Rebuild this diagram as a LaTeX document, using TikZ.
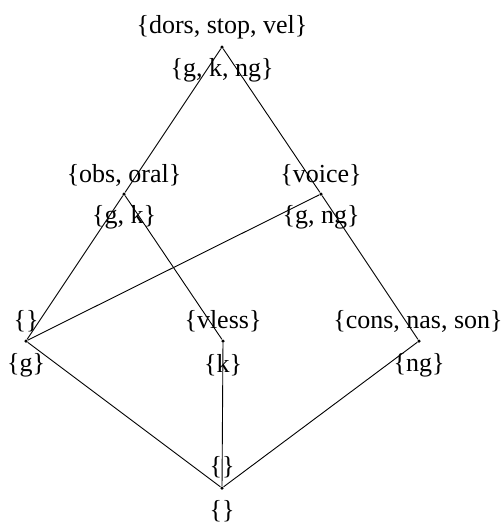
\documentclass[tikz,border=0pt]{standalone}
\usepackage{fontspec}
\setmainfont{Liberation Serif}
\begin{document}
\begin{tikzpicture}[x=1pt,y=-1pt,
  dot/.style={circle,fill=black,inner sep=0pt,minimum size=3.5pt},
  lab/.style={inner sep=0pt,font=\fontsize{26}{31}\selectfont},
  edge/.style={line width=0.9pt}]
\useasboundingbox (0,0) rectangle (503,523);
\node[dot] (top) at (222,47) {};
\node[dot] (obs) at (124,194) {};
\node[dot] (voi) at (321,194) {};
\node[dot] (lft) at (26,341) {};
\node[dot] (vls) at (223,341) {};
\node[dot] (cns) at (419,341) {};
\node[dot] (bot) at (222,488) {};
\draw[edge] (top) -- (obs);
\draw[edge] (top) -- (voi);
\draw[edge] (obs) -- (lft);
\draw[edge] (obs) -- (vls);
\draw[edge] (voi) -- (lft);
\draw[edge] (voi) -- (cns);
\draw[edge] (lft) -- (bot);
\draw[edge] (vls) -- (bot);
\draw[edge] (cns) -- (bot);
\node[lab] (topA) at (222,27) {\{dors, stop, vel\}};
\node[lab] (topB) at (222,70) {\{g, k, ng\}};
\node[lab] (obsA) at (124,175) {\{obs, oral\}};
\node[lab] (obsB) at (124,217) {\{g, k\}};
\node[lab] (voiA) at (321,175) {\{voice\}};
\node[lab] (voiB) at (321,217) {\{g, ng\}};
\node[lab] (lftA) at (26,321) {\{\}};
\node[lab] (lftB) at (26,365) {\{g\}};
\node[lab] (vlsA) at (223,321) {\{vless\}};
\node[lab] (vlsB) at (223,365) {\{k\}};
\node[lab] (cnsA) at (418,321) {\{cons, nas, son\}};
\node[lab] (cnsB) at (419,365) {\{ng\}};
\node[lab] (botA) at (222,467) {\{\}};
\node[lab] (botB) at (222,511) {\{\}};
\end{tikzpicture}
\end{document}
